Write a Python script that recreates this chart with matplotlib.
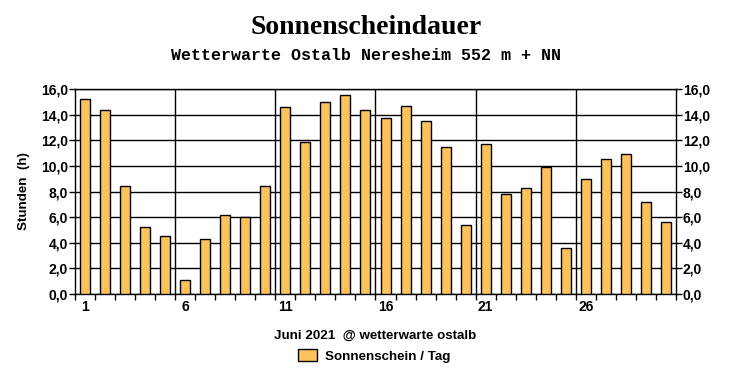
import numpy as np
import matplotlib.pyplot as plt
from matplotlib.ticker import FuncFormatter, MultipleLocator
from matplotlib.patches import Patch

# --- Daten: Sonnenscheindauer Juni 2021 (Stunden/Tag) ---
tage = np.arange(1, 31)
sonne = [15.2, 14.4, 8.4, 5.2, 4.5, 1.1, 4.3, 6.2, 6.0, 8.4,
         14.6, 11.9, 15.0, 15.5, 14.4, 13.7, 14.7, 13.5, 11.5, 5.4,
         11.7, 7.8, 8.3, 9.9, 3.6, 9.0, 10.5, 10.9, 7.2, 5.6]
tick_tage = [1, 6, 11, 16, 21, 26]

bar_farbe = "#fcc35c"
tick_font = {"family": "Liberation Sans", "weight": "bold", "size": 10}
label_font = {"family": "Liberation Sans", "weight": "bold", "size": 9.6}

fig = plt.figure(figsize=(7.32, 3.80), dpi=100)
ax = fig.add_axes([75 / 732, 86 / 380, 601 / 732, 205 / 380])

ax.bar(tage, sonne, width=0.5, color=bar_farbe, edgecolor="black", linewidth=1, zorder=3)

ax.set_xlim(0.5, 30.5)
ax.set_ylim(0, 16)

# horizontale Gitterlinien
ax.yaxis.set_major_locator(MultipleLocator(2))
ax.grid(axis="y", color="black", linewidth=1, zorder=0)
# vertikale Gitterlinien zwischen Tag 5/6, 10/11, ...
for g in [5.5, 10.5, 15.5, 20.5, 25.5]:
    ax.axvline(g, color="black", linewidth=1, zorder=0)

fmt = FuncFormatter(lambda v, p: f"{v:.1f}".replace(".", ","))
ax.yaxis.set_major_formatter(fmt)
ax.tick_params(axis="y", direction="out", length=4, width=1, pad=1,
               right=True, labelright=True)

ax.set_xticks(tick_tage)
ax.set_xticklabels([str(t) for t in tick_tage])
ax.set_xticks(np.arange(0.5, 31, 1), minor=True)
ax.tick_params(axis="x", which="major", length=0, pad=4)
ax.tick_params(axis="x", which="minor", direction="out", length=4, width=1)

for lbl in ax.get_xticklabels() + ax.get_yticklabels():
    lbl.set_fontproperties(tick_font)
for t in ax.yaxis.get_major_ticks():
    t.label2.set_fontproperties(tick_font)

for s in ax.spines.values():
    s.set_linewidth(1)
    s.set_color("black")

ax.set_ylabel("Stunden  (h)", fontdict=label_font, labelpad=8)
ax.set_xlabel("Juni 2021  @ wetterwarte ostalb", fontdict=label_font, labelpad=12)

fig.text(0.5, 1 - 28 / 380, "Sonnenscheindauer", ha="center", va="center",
         family="Liberation Serif", weight="bold", size=20)
fig.text(0.5, 1 - 55 / 380, "Wetterwarte Ostalb Neresheim 552 m + NN", ha="center", va="center",
         family="Liberation Mono", weight="bold", size=12)

fig.legend(handles=[Patch(facecolor=bar_farbe, edgecolor="black", label="Sonnenschein / Tag")],
           loc="center", bbox_to_anchor=(374 / 732, 1 - 356 / 380), frameon=False,
           prop=label_font, handlelength=1.4, handleheight=1.0, handletextpad=0.6)

fig.savefig("out.png", dpi=100)
